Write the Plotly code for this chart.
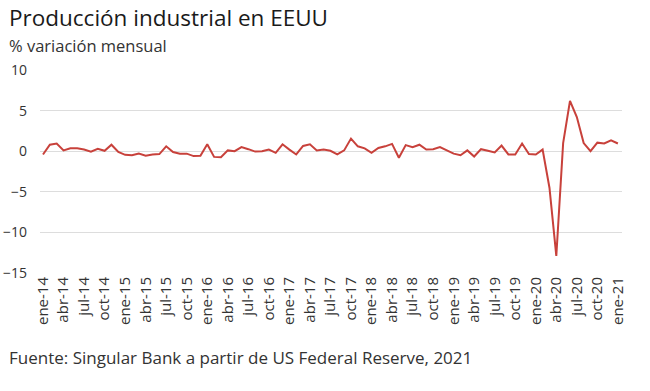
import plotly.graph_objects as go

months = ["ene", "feb", "mar", "abr", "may", "jun", "jul", "ago", "sep", "oct", "nov", "dic"]
years = [14, 15, 16, 17, 18, 19, 20, 21]

v2014 = [-0.4, 0.8, 0.95, 0.1, 0.35, 0.35, 0.2, -0.05, 0.3, 0.05, 0.8, -0.1]
v2015 = [-0.45, -0.5, -0.3, -0.55, -0.4, -0.35, 0.6, -0.1, -0.3, -0.3, -0.6, -0.55]
v2016 = [0.85, -0.7, -0.75, 0.1, 0.0, 0.5, 0.25, -0.05, 0.0, 0.2, -0.2, 0.85]
v2017 = [0.2, -0.4, 0.65, 0.85, 0.1, 0.2, 0.05, -0.4, 0.1, 1.55, 0.6, 0.35]
v2018 = [-0.2, 0.4, 0.6, 0.9, -0.8, 0.75, 0.5, 0.8, 0.2, 0.25, 0.5, 0.1]
v2019 = [-0.3, -0.5, 0.1, -0.65, 0.25, 0.05, -0.15, 0.7, -0.4, -0.4, 0.95, -0.35]
v2020 = [-0.4, 0.2, -4.5, -12.9, 1.0, 6.2, 4.2, 1.0, 0.0, 1.05, 0.95, 1.35]
v2021 = [0.95]

values = v2014 + v2015 + v2016 + v2017 + v2018 + v2019 + v2020 + v2021
labels = [f"{m}-{y}" for y in years for m in months][:len(values)]
x_idx = list(range(len(values)))

tick_vals = x_idx[::3]
tick_text = labels[::3]
y_ticks = [10, 5, 0, -5, -10, -15]

fig = go.Figure()
fig.add_trace(go.Scatter(
    x=x_idx, y=values, mode="lines",
    line=dict(color="#c8413b", width=2),
    hoverinfo="skip", showlegend=False,
))

font_family = "Open Sans, Noto Sans, sans-serif"
ML, MR, MT, MB = 40, 28, 70, 118
W, H = 650, 391
plot_w = W - ML - MR
plot_h = H - MT - MB

def px_x(px):
    return (px - ML) / plot_w

def px_y(py):
    return (H - MB - py) / plot_h

fig.update_layout(
    width=W, height=H,
    margin=dict(l=ML, r=MR, t=MT, b=MB),
    paper_bgcolor="white", plot_bgcolor="white",
    font=dict(family=font_family, color="#333333"),
)

fig.add_annotation(text="Producción industrial en EEUU", xref="paper", yref="paper",
                   x=px_x(7), y=px_y(17), xanchor="left", yanchor="middle",
                   showarrow=False, font=dict(size=22.5, color="#1a1a1a"))
fig.add_annotation(text="% variación mensual", xref="paper", yref="paper",
                   x=px_x(7), y=px_y(45), xanchor="left", yanchor="middle",
                   showarrow=False, font=dict(size=16.5, color="#333333"))
fig.add_annotation(text="Fuente: Singular Bank a partir de US Federal Reserve, 2021", xref="paper", yref="paper",
                   x=px_x(7), y=px_y(357), xanchor="left", yanchor="middle",
                   showarrow=False, font=dict(size=17, color="#333333"))

fig.update_xaxes(
    range=[-0.44, 84.6], tickmode="array", tickvals=tick_vals, ticktext=tick_text,
    tickangle=-90, showgrid=False, zeroline=False, showline=False,
    tickfont=dict(size=15, color="#333333"), ticks="", automargin=False,
)
fig.update_yaxes(
    range=[-15, 10], tickmode="array", tickvals=y_ticks,
    showgrid=True, gridcolor="#dddddd", gridwidth=1.3, zeroline=False, showline=False,
    tickfont=dict(size=14, color="#333333"), ticks="", ticklabelstandoff=12,
    automargin=False,
)

fig.write_html("out.html", config={"displayModeBar": False},
               post_script="document.body.style.margin='0';")
